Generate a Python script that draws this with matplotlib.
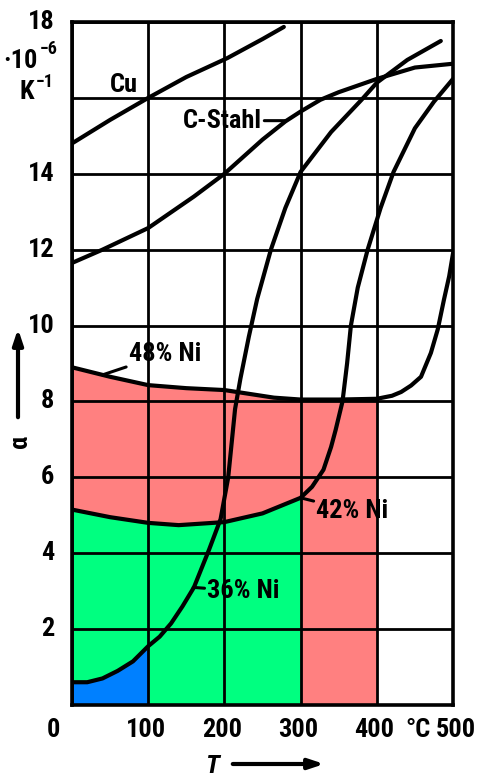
"""
Thermal expansion coefficient alpha vs temperature (Cu, C-Stahl, Fe-Ni alloys)
Writes out.png
"""

import matplotlib
matplotlib.use('Agg')
import matplotlib.pyplot as plt
from matplotlib import font_manager
import numpy as np

# data (T in degC, alpha in 1e-6/K)
cu_T = [0, 50, 100, 150, 204, 250, 278]
cu_a = [14.8, 15.42, 16.0, 16.55, 17.05, 17.55, 17.87]

stahl_T = [0, 40, 100, 160, 200, 250, 280, 300, 326, 350, 400, 450, 500]
stahl_a = [11.65, 12.0, 12.57, 13.4, 14.0, 14.9, 15.38, 15.64, 15.95, 16.15, 16.5, 16.8, 16.9]

ni36_T = [0, 20, 40, 60, 80, 100, 115, 130, 145, 160, 170, 180, 195, 205, 214, 221,
          232, 243, 261, 280, 300, 340, 380, 400, 440, 484]
ni36_a = [0.6, 0.6, 0.7, 0.9, 1.15, 1.55, 1.8, 2.15, 2.6, 3.1, 3.6, 4.1, 4.9, 6.0, 7.8, 8.6,
          9.7, 10.7, 12.0, 13.1, 14.05, 15.1, 15.95, 16.4, 17.0, 17.5]

ni42_T = [0, 50, 100, 140, 200, 250, 300, 315, 330, 340, 346, 355, 361, 366, 375, 388, 405, 422, 450, 475, 500]
ni42_a = [5.15, 4.95, 4.8, 4.74, 4.82, 5.05, 5.46, 5.75, 6.2, 6.8, 7.25, 8.0, 9.0, 10.0, 11.0, 12.0, 13.1, 14.05, 15.2, 15.9, 16.5]

ni48_T = [0, 50, 100, 150, 200, 265, 300, 350, 400, 420, 432, 445, 458, 471, 480, 488, 495, 500]
ni48_a = [8.9, 8.65, 8.43, 8.35, 8.3, 8.1, 8.05, 8.05, 8.07, 8.15, 8.25, 8.42, 8.65, 9.28, 9.9, 10.67, 11.3, 11.9]

# shaded ranges (upper temperature of each colour band)
fill_limits = {'48': 400, '42': 300, '36': 100}
fill_colors = {'48': '#ff8080', '42': '#00ff80', '36': '#0080ff'}

x_ticks = [100, 200, 300, 400, 500]
y_ticks = [2, 4, 6, 8, 10, 12, 14, 18]

# narrow font if one is around, else plain DejaVu a bit smaller
fonts = font_manager.fontManager.ttflist
names = {f.name for f in fonts}
dv_cond = any(f.name == 'DejaVu Sans' and f.stretch == 'condensed' for f in fonts)
fs, fs_sup = 19, 13
if 'Liberation Sans Narrow' in names:
    plt.rcParams['font.family'] = ['Liberation Sans Narrow', 'DejaVu Sans']
elif 'Roboto Condensed' in names:
    plt.rcParams['font.family'] = ['Roboto Condensed', 'DejaVu Sans']
elif dv_cond:
    plt.rcParams['font.family'] = ['DejaVu Sans']
    plt.rcParams['font.stretch'] = 'condensed'
    fs, fs_sup = 17, 12
else:
    plt.rcParams['font.family'] = ['DejaVu Sans']
    fs, fs_sup = 15, 11
plt.rcParams['font.weight'] = 'bold'

W, H = 480, 778
fig = plt.figure(figsize=(W / 100, H / 100), dpi=100)
ax = fig.add_axes([72 / W, (H - 705) / H, 381 / W, 683 / H])


def fpx(x, y):
    # pixel position in the picture -> figure fraction
    return x / W, 1 - y / H


# colour bands under the curves
for key, T, a in [('48', ni48_T, ni48_a), ('42', ni42_T, ni42_a), ('36', ni36_T, ni36_a)]:
    T = np.array(T)
    a = np.array(a)
    m = T <= fill_limits[key]
    ax.fill_between(T[m], 0, a[m], color=fill_colors[key], lw=0, zorder=1)

# curves
for T, a in [(cu_T, cu_a), (stahl_T, stahl_a), (ni36_T, ni36_a),
             (ni42_T, ni42_a), (ni48_T, ni48_a)]:
    ax.plot(T, a, color='black', lw=3.0, solid_capstyle='round',
            solid_joinstyle='round', zorder=4)

ax.set_xlim(0, 500)
ax.set_ylim(0, 18)
ax.set_xticks(range(0, 501, 100))
ax.set_yticks(range(0, 19, 2))
ax.grid(True, color='black', lw=2.0)
ax.set_axisbelow(False)
for s in ax.spines.values():
    s.set_linewidth(2.6)
ax.tick_params(length=0, labelbottom=False, labelleft=False)

# tick labels
for t in x_ticks:
    ax.text(t + (4 if t == 500 else -3), -0.65, str(t), ha='center', va='center',
            fontsize=fs, clip_on=False)
ax.text(-25, -0.65, '0', ha='center', va='center', fontsize=fs, clip_on=False)
ax.text(454, -0.65, '°C', ha='center', va='center', fontsize=fs, clip_on=False)
for t in y_ticks:
    ax.text(-23, t, str(t), ha='right', va='center', fontsize=fs, clip_on=False)

# unit next to the y axis
fig.text(*fpx(38, 61), '·10', ha='right', va='center', fontsize=fs)
fig.text(*fpx(40, 49), '−6', ha='left', va='center', fontsize=fs_sup)
fig.text(*fpx(34, 92), 'K', ha='right', va='center', fontsize=fs)
fig.text(*fpx(36, 82), '−1', ha='left', va='center', fontsize=fs_sup)

# axis labels with arrows
fig.text(*fpx(20, 441), 'α', rotation=90, ha='center', va='center', fontsize=fs)
ax.annotate('', xy=fpx(18, 326), xytext=fpx(18, 420), xycoords='figure fraction',
            arrowprops=dict(arrowstyle='-|>,head_length=0.9,head_width=0.3',
                            color='black', lw=3))
fig.text(*fpx(213, 766), 'T', style='italic', ha='center', va='center', fontsize=fs)
ax.annotate('', xy=fpx(327, 764), xytext=fpx(230, 764), xycoords='figure fraction',
            arrowprops=dict(arrowstyle='-|>,head_length=0.9,head_width=0.3',
                            color='black', lw=3))

# curve labels
box = dict(fc='none', ec='none', pad=1)
lead = dict(arrowstyle='-', color='black', lw=2.2, shrinkA=1, shrinkB=0)
ax.text(68, 16.35, 'Cu', ha='center', va='center', fontsize=fs, zorder=5)
ax.annotate('C-Stahl', xy=(280, 15.4), xytext=(197, 15.4), ha='center', va='center',
            fontsize=fs, bbox=box, arrowprops=lead, zorder=5)
ax.annotate('48% Ni', xy=(40, 8.7), xytext=(122, 9.25), ha='center', va='center',
            fontsize=fs, bbox=box, arrowprops=lead, zorder=5)
ax.annotate('42% Ni', xy=(300, 5.46), xytext=(368, 5.12), ha='center', va='center',
            fontsize=fs, bbox=box, arrowprops=lead, zorder=5)
ax.annotate('36% Ni', xy=(159, 3.1), xytext=(225, 3.0), ha='center', va='center',
            fontsize=fs, bbox=box, arrowprops=lead, zorder=5)

fig.savefig('out.png', dpi=100, facecolor='white')
plt.close(fig)
